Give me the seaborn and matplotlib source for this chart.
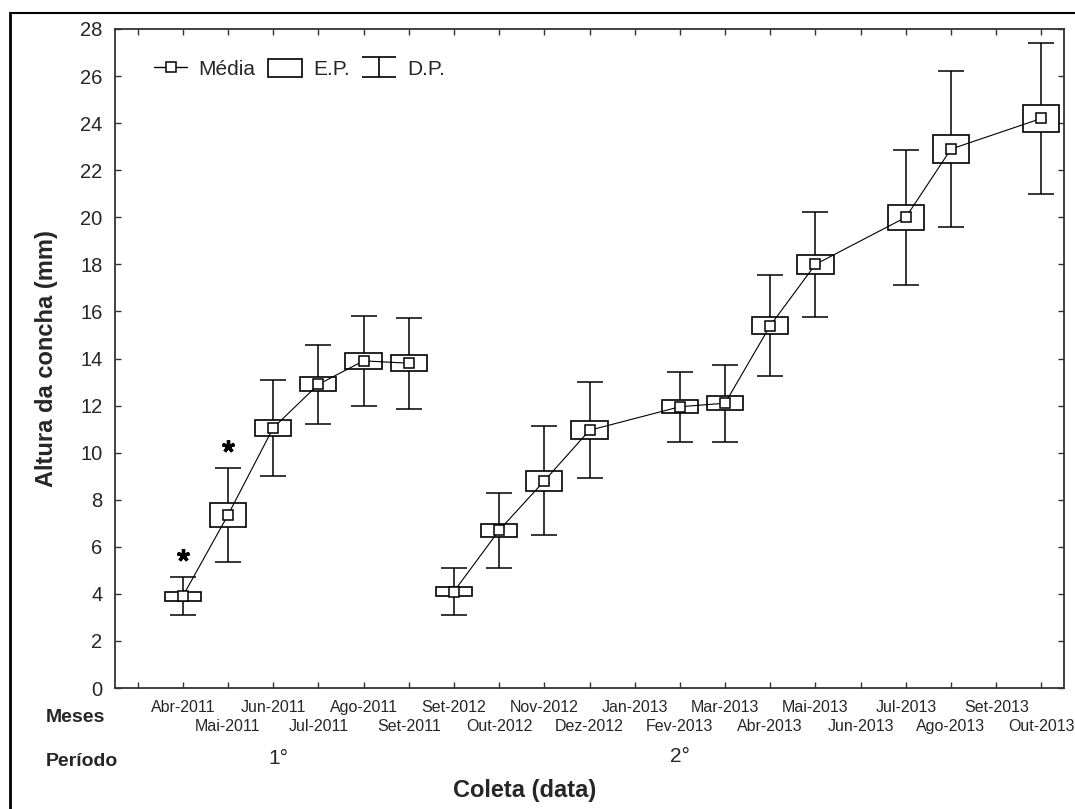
import matplotlib.pyplot as plt
import numpy as np
import pandas as pd
import seaborn as sns
from matplotlib.lines import Line2D
from matplotlib.patches import Patch
from matplotlib.path import Path


# month labels on the x axis (first slot is empty)
meses = ["Abr-2011", "Mai-2011", "Jun-2011", "Jul-2011", "Ago-2011", "Set-2011",
	"Set-2012", "Out-2012", "Nov-2012", "Dez-2012", "Jan-2013", "Fev-2013",
	"Mar-2013", "Abr-2013", "Mai-2013", "Jun-2013", "Jul-2013", "Ago-2013",
	"Set-2013", "Out-2013"]

# sampled months
coleta = ["Abr-2011", "Mai-2011", "Jun-2011", "Jul-2011", "Ago-2011", "Set-2011",
	"Set-2012", "Out-2012", "Nov-2012", "Dez-2012", "Fev-2013", "Mar-2013",
	"Abr-2013", "Mai-2013", "Jul-2013", "Ago-2013", "Out-2013"]
periodo = [1, 1, 1, 1, 1, 1, 2, 2, 2, 2, 2, 2, 2, 2, 2, 2, 2]
media = [3.9, 7.35, 11.05, 12.9, 13.9, 13.8, 4.1, 6.7, 8.8, 10.95, 11.95, 12.1,
	15.4, 18.0, 20.0, 22.9, 24.2]
ep = [0.2, 0.52, 0.35, 0.3, 0.35, 0.35, 0.2, 0.27, 0.41, 0.38, 0.27, 0.3,
	0.38, 0.41, 0.52, 0.6, 0.58]
dp = [0.8, 2.0, 2.04, 1.69, 1.92, 1.93, 0.99, 1.59, 2.32, 2.04, 1.49, 1.64,
	2.15, 2.23, 2.87, 3.33, 3.2]

# significance marks
signif = ["Abr-2011", "Mai-2011"]

periodo_labels = ["1°", "2°"]

sns.set_style("ticks")
plt.rcParams["font.family"] = ["Liberation Sans", "DejaVu Sans"]

df = pd.DataFrame({"coleta": coleta, "periodo": periodo, "media": media, "ep": ep, "dp": dp})
df["pos"] = [meses.index(m) + 1 for m in coleta]

fig = plt.figure(figsize=(10.75, 8.09), dpi=100)
ax = fig.add_axes([115 / 1075, 1 - 688 / 809, 949 / 1075, 659 / 809])

# D.P. whiskers
ax.errorbar(df.pos, df.media, yerr=df.dp, fmt="none", ecolor="black",
	elinewidth=1.1, capsize=9.5, capthick=1.1, zorder=1)

# E.P. boxes
ax.bar(df.pos, 2 * df.ep, bottom=df.media - df.ep, width=0.8, facecolor="white",
	edgecolor="black", linewidth=1.2, zorder=2)

# mean line, one per period
sns.lineplot(data=df, x="pos", y="media", units="periodo", estimator=None, sort=False,
	color="black", lw=0.8, marker="s", markersize=7.5, markerfacecolor="white",
	markeredgecolor="black", markeredgewidth=1.1, legend=False, ax=ax, zorder=3)

# asterisks
for m in signif:
	row = df[df.coleta == m].iloc[0]
	ax.plot(row.pos, row.media + row.dp + 0.95, linestyle="none", marker=(5, 2, 0),
		markersize=9, markeredgewidth=2.4, color="black", zorder=4)

ax.set_xlim(-0.5, 20.5)
ax.set_ylim(0, 28)
ax.set_yticks(np.arange(0, 29, 2))

# two rows of month labels: upper row on major ticks, lower row on minor ticks
upper = [0] + list(range(1, len(meses) + 1, 2))
lower = list(range(2, len(meses) + 1, 2))
ax.set_xticks(upper)
ax.set_xticklabels([""] + [meses[i - 1] for i in upper[1:]], fontsize=11.5)
ax.set_xticks(lower, minor=True)
ax.set_xticklabels([meses[i - 1] for i in lower], minor=True, fontsize=11.5)
ax.tick_params(axis="x", which="major", pad=8.5)
ax.tick_params(axis="x", which="minor", pad=22.4)
ax.tick_params(axis="y", labelsize=14.5, pad=9)
ax.tick_params(which="both", direction="in", top=True, right=True, length=4, width=1,
	color="#333333")
ax.yaxis.set_tick_params(which="minor", left=False, right=False)
for s in ax.spines.values():
	s.set_color("#333333")
	s.set_linewidth(1.3)

ax.set_xlabel("")
ax.set_ylabel("Altura da concha (mm)", fontsize=17, fontweight="bold")
ax.yaxis.set_label_coords(-0.072, 0.5)
ax.yaxis.label.set_va("center")

fig.text(525 / 1075, 1 - 790 / 809, "Coleta (data)", fontsize=17, fontweight="bold",
	ha="center", va="center")
fig.text(46 / 1075, 1 - 718 / 809, "Meses", fontsize=14, fontweight="bold", va="center")
fig.text(46 / 1075, 1 - 762 / 809, "Período", fontsize=14, fontweight="bold", va="center")
fig.text(278 / 1075, 1 - 758 / 809, periodo_labels[0], fontsize=15, ha="center", va="center")
fig.text(680 / 1075, 1 - 757 / 809, periodo_labels[1], fontsize=15, ha="center", va="center")

# legend
ibeam = Path([(-1, 0.58), (1, 0.58), (0, 0.58), (0, -0.58), (-1, -0.58), (1, -0.58)],
	[Path.MOVETO, Path.LINETO, Path.MOVETO, Path.LINETO, Path.MOVETO, Path.LINETO])
handles = [
	Line2D([], [], color="black", lw=1, marker="s", markersize=7.5,
		markerfacecolor="white", markeredgecolor="black", markeredgewidth=1.1),
	Patch(facecolor="white", edgecolor="black", linewidth=1.2),
	Line2D([], [], linestyle="none", marker=ibeam, markersize=24,
		markerfacecolor="none", markeredgecolor="black", markeredgewidth=1.2),
]
ax.legend(handles, ["Média", "E.P.", "D.P."], loc="upper left", ncol=3, frameon=False,
	fontsize=15, bbox_to_anchor=(0.041, 0.955), borderaxespad=0, borderpad=0,
	handlelength=1.6, handleheight=0.95, handletextpad=0.55, columnspacing=0.6)

# outer frame lines
fig.add_artist(Line2D([10 / 1075, 1], [1 - 13 / 809, 1 - 13 / 809], color="black", lw=1.5))
fig.add_artist(Line2D([10 / 1075, 10 / 1075], [0, 1 - 13 / 809], color="black", lw=2))

fig.savefig("out.png", dpi=100)
